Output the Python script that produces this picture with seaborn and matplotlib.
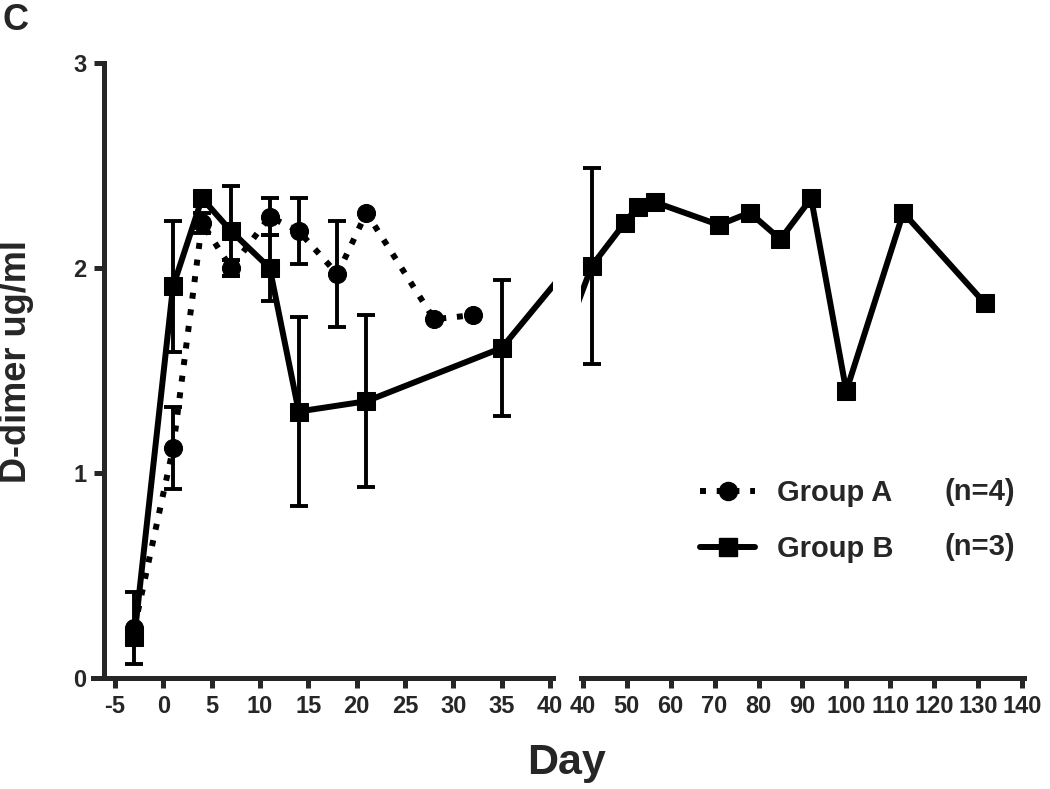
import matplotlib
matplotlib.use("Agg")
import matplotlib.pyplot as plt
import seaborn as sns
import numpy as np
import pandas as pd
from matplotlib.lines import Line2D

sns.set_style("ticks")
plt.rcParams['font.family'] = ['Liberation Sans', 'DejaVu Sans']
plt.rcParams['axes.unicode_minus'] = False

# ---- data ----
days_a = [-3, 1, 4, 7, 11, 14, 18, 21, 28, 32]
vals_a = [0.245, 1.12, 2.22, 2.00, 2.25, 2.18, 1.97, 2.27, 1.75, 1.77]
err_a = [0.175, 0.20, 0.05, 0.04, 0.09, 0.16, 0.26, 0.0, 0.0, 0.0]

days_b = [-3, 1, 4, 7, 11, 14, 21, 35, 42, 49.5, 52.5, 56.5, 71, 78, 85, 92, 100, 113, 131.5]
vals_b = [0.20, 1.91, 2.34, 2.18, 2.00, 1.30, 1.35, 1.61, 2.01, 2.22, 2.30, 2.32, 2.21, 2.27, 2.14, 2.34, 1.40, 2.27, 1.83]
err_b = [0.0, 0.32, 0.0, 0.22, 0.16, 0.46, 0.42, 0.33, 0.48, 0, 0, 0, 0, 0, 0, 0, 0, 0, 0]

left_ticks = [-5, 0, 5, 10, 15, 20, 25, 30, 35, 40]
right_ticks = [40, 50, 60, 70, 80, 90, 100, 110, 120, 130, 140]
y_ticks = [0, 1, 2, 3]

labels = ["Group A", "Group B"]
n_labels = ["(n=4)", "(n=3)"]

df_a = pd.DataFrame({"day": days_a, "val": vals_a, "err": err_a})
df_b = pd.DataFrame({"day": days_b, "val": vals_b, "err": err_b})

W, H = 1050, 789
fig = plt.figure(figsize=(10.5, 7.89), dpi=100)
y0, y3 = 678, 63
axL = fig.add_axes([93 / W, 1 - y0 / H, (553 - 93) / W, (y0 - y3) / H])
axR = fig.add_axes([581 / W, 1 - y0 / H, (1024 - 581) / W, (y0 - y3) / H])

lw = 4.3
dot_style = (0, (1, 1.8))
for ax in (axL, axR):
    eb_a = df_a[df_a.err > 0]
    eb_b = df_b[df_b.err > 0]
    ax.errorbar(eb_a.day, eb_a.val, yerr=eb_a.err, fmt='none', ecolor='black',
                elinewidth=2.8, capsize=6.5, capthick=2.8, zorder=4)
    ax.errorbar(eb_b.day, eb_b.val, yerr=eb_b.err, fmt='none', ecolor='black',
                elinewidth=2.8, capsize=6.5, capthick=2.8, zorder=4)
    sns.lineplot(data=df_a, x="day", y="val", ax=ax, color='black', marker='o',
                 markersize=13, markeredgecolor='black', lw=lw, linestyle=dot_style,
                 zorder=3, estimator=None, sort=False)
    sns.lineplot(data=df_b, x="day", y="val", ax=ax, color='black', marker='s',
                 markersize=13.5, markeredgecolor='black', lw=lw, linestyle='-',
                 zorder=3, estimator=None, sort=False)
    ax.set_ylim(0, 3)
    ax.set_xlabel("")
    ax.set_ylabel("")
    for s in ('top', 'right'):
        ax.spines[s].set_visible(False)
    ax.spines['bottom'].set_linewidth(3.6)
    ax.spines['left'].set_linewidth(3.6)
    ax.tick_params(axis='both', direction='out', length=7.5, width=3.6, pad=5)
    ax.patch.set_alpha(0)

axL.set_xlim(-7.28, 40.3)
axL.spines['left'].set_position(('data', -6.14))
axL.set_xticks(left_ticks)
axL.set_xticklabels([str(t) for t in left_ticks], fontsize=17, fontweight='bold')
axL.set_yticks(y_ticks)
axL.set_yticklabels([str(t) for t in y_ticks], fontsize=17, fontweight='bold')

axR.set_xlim(39.55, 140.5)
axR.spines['left'].set_visible(False)
axR.set_yticks([])
axR.tick_params(axis='y', left=False, labelleft=False)
axR.set_xticks(right_ticks)
axR.set_xticklabels([str(t) for t in right_ticks], fontsize=17, fontweight='bold')

# legend
handles = [
    Line2D([], [], color='black', lw=lw, linestyle=dot_style, marker='o', markersize=13),
    Line2D([], [], color='black', lw=lw, linestyle='-', marker='s', markersize=13.5),
]
leg = fig.legend(handles, labels, loc='upper left', bbox_to_anchor=(700 / W, 1 - 479 / H),
                 frameon=False, handlelength=1.9, handletextpad=0.75, labelspacing=0.95,
                 borderpad=0, borderaxespad=0,
                 prop={'weight': 'bold', 'size': 21})
fig.text(945 / W, 1 - 492 / H, n_labels[0], fontsize=21, fontweight='bold', va='center')
fig.text(945 / W, 1 - 547 / H, n_labels[1], fontsize=21, fontweight='bold', va='center')

fig.text(17 / W, 1 - 362 / H, "D-dimer ug/ml", rotation=90, fontsize=26,
         fontweight='bold', ha='center', va='center')
fig.text(567 / W, 1 - 763 / H, "Day", fontsize=31, fontweight='bold',
         ha='center', va='center')
fig.text(2 / W, 1 - 20 / H, "C", fontsize=26, fontweight='bold', ha='left', va='center')

fig.savefig("out.png", dpi=100)
